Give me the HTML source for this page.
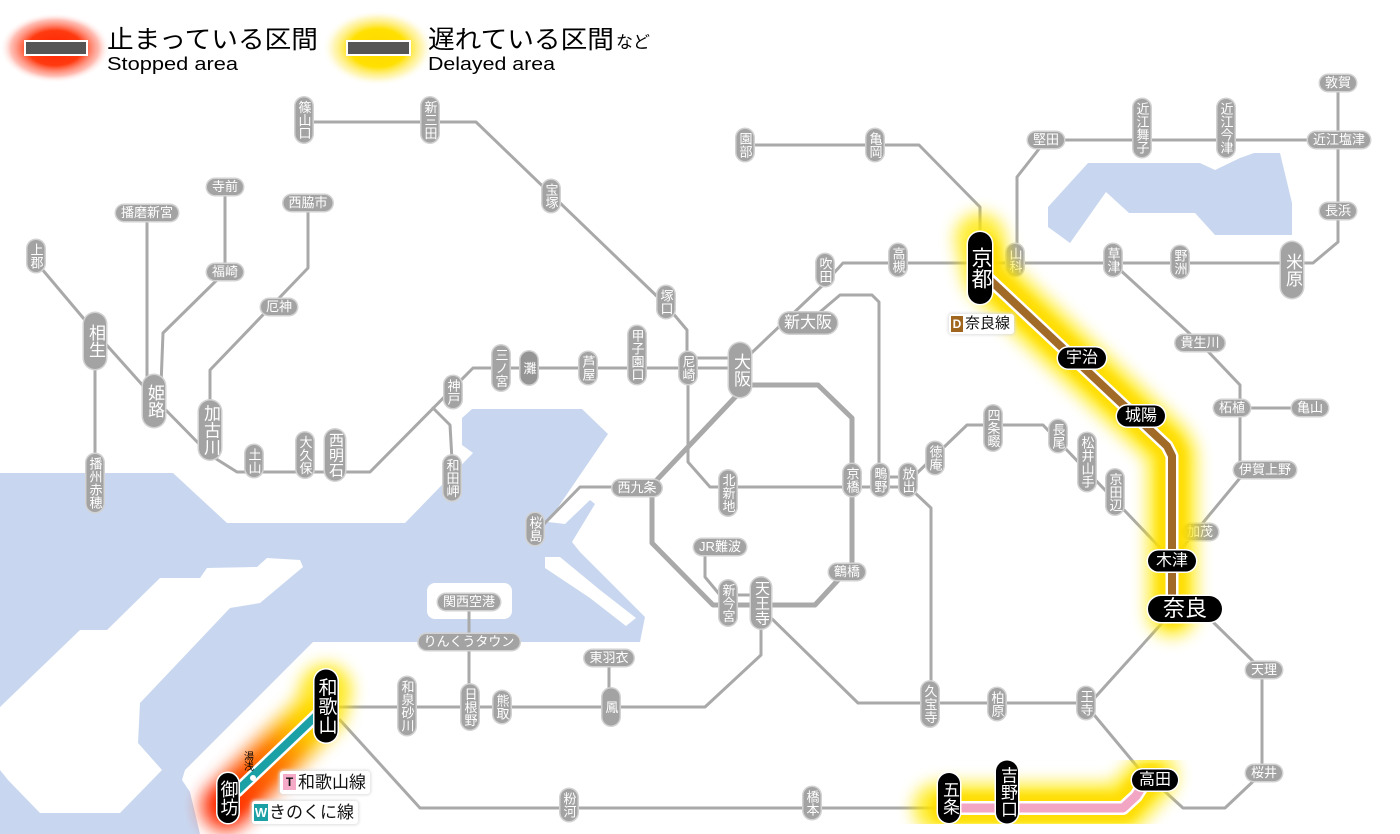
<!DOCTYPE html>
<html><head><meta charset="utf-8">
<style>
html,body{margin:0;padding:0;background:#fff}
#c{position:relative;width:1400px;height:834px;overflow:hidden;background:#fff}
svg{position:absolute;left:0;top:0}
.l{position:absolute;transform:translate(-50%,-50%);color:#fff;font-family:"Liberation Sans","Noto Sans CJK JP",sans-serif;white-space:nowrap;text-align:center}
.g{background:#a3a3a3;box-shadow:0 0 0 1.5px #d2d2d2;font-size:13px;border-radius:9px}
.v{writing-mode:vertical-rl;line-height:17px;padding:3px 0}
.h{line-height:16px;padding:0 5px}
.B{font-size:17px;line-height:22px;border-radius:11px}
.M{font-size:15px;line-height:20px;border-radius:10px}
.k{background:#000;box-shadow:0 0 0 1.5px #fff;border-radius:12px}
.box{position:absolute;background:#fff;box-shadow:0 0 3px 1px #ddd;border-radius:3px;font-family:"Liberation Sans","Noto Sans CJK JP",sans-serif;color:#111;white-space:nowrap}
.ic{display:inline-block;text-align:center;font-weight:bold;vertical-align:top}
</style></head><body>
<div id="c">
<svg width="1400" height="834" viewBox="0 0 1400 834">
 <g fill="#c8d7ef">
  <polygon points="0,473 173,473 227,523 405,523 473,453 462,445 462,418 472,409 582,409 608,434 548,522 565,524 590,500 595,504 572,542 580,552 645,617 640,642 313,642 185,770 182,780 190,792 200,834 0,834"/>
  <polygon points="1048,207 1088,163 1200,163 1215,170 1240,158 1254,153 1280,153 1292,203 1292,235 1215,235 1195,213 1129,213 1106,192 1070,243 1048,227"/>
 </g>
 <g fill="#fff">
  <polygon points="0,707 80,630 107,630 160,578 200,578 207,568 257,567 267,558 300,560 303,567 260,603 230,608 140,703 138,743 162,770 120,813 40,813 8,780 0,770"/>
  <rect x="427" y="583" width="85" height="36" rx="8"/>
  <polygon points="545,557 560,557 600,590 636,618 626,626 590,598 545,568"/>
 </g>
 <g fill="none" stroke="#a9a9a9" stroke-width="3" stroke-linejoin="round" stroke-linecap="round">
  <polyline points="304,122 476,122 666,305 687,330 687,370"/>
  <polyline points="36,262 95,332 154,398 210,455 237,472 370,472 473,368 740,368"/>
  <polyline points="433,408 450,425 452,460"/>
  <polyline points="688,358 740,358"/>
  <polyline points="225,187 225,272 163,333 161,385"/>
  <polyline points="147,213 147,385"/>
  <polyline points="308,203 308,268 210,370 210,430"/>
  <polyline points="95,340 95,483"/>
  <polyline points="742,362 823,285 843,263 1313,263 1338,242 1338,83"/>
  <polyline points="820,312 840,295 872,295 879,302 879,480"/>
  <polyline points="688,370 688,462 710,487 908,487"/>
  <polyline points="879,477 908,477"/>
  <polyline points="915,475 967,425 1043,425 1167,555"/>
  <polyline points="912,490 931,508 931,703"/>
  <polyline points="766,613 858,703 1090,703 1172,612"/>
  <polyline points="1090,710 1140,770"/>
  <polyline points="949,808 420,808 340,720"/>
  <polyline points="1214,623 1262,670 1262,773 1225,808 1183,808 1160,787"/>
  <polyline points="337,707 705,707 761,655 761,627"/>
  <polyline points="469,602 469,707"/>
  <polyline points="609,658 609,707"/>
  <polyline points="705,547 705,577 720,595 761,595"/>
  <polyline points="1118,268 1200,343 1240,385 1240,478 1172,560"/>
  <polyline points="1240,408 1310,408"/>
  <polyline points="745,145 919,145 980,207 980,240"/>
  <polyline points="1017,263 1017,177 1046,140 1338,140"/>
  <polyline points="535,528 543,525 580,487 637,487"/>
  <polyline stroke-width="5" points="740,385 818,385 852,418 852,565 815,605 713,605 652,543 652,485 740,392"/>
 </g>
</svg>

<!-- gray labels -->
<div class="l g v" style="left:304px;top:120px">篠山口</div>
<div class="l g v" style="left:430px;top:120px">新三田</div>
<div class="l g v" style="left:551px;top:196px">宝塚</div>
<div class="l g v" style="left:666px;top:302px">塚口</div>
<div class="l g v" style="left:688px;top:368px">尼崎</div>
<div class="l g v" style="left:637px;top:355px">甲子園口</div>
<div class="l g v" style="left:588px;top:368px">芦屋</div>
<div class="l g v" style="left:529px;top:368px;padding:10px 0;background:#959595">灘</div>
<div class="l g v" style="left:501px;top:368px">三ノ宮</div>
<div class="l g v" style="left:453px;top:392px">神戸</div>
<div class="l g v" style="left:452px;top:478px">和田岬</div>
<div class="l g v" style="left:305px;top:455px">大久保</div>
<div class="l g v" style="left:254px;top:461px">土山</div>
<div class="l g v" style="left:95px;top:483px">播州赤穂</div>
<div class="l g v" style="left:36px;top:256px">上郡</div>
<div class="l g v" style="left:407px;top:706px">和泉砂川</div>
<div class="l g v" style="left:470px;top:707px">日根野</div>
<div class="l g v" style="left:502px;top:707px">熊取</div>
<div class="l g v" style="left:611px;top:707px;padding:12px 0">鳳</div>
<div class="l g v" style="left:569px;top:805px">粉河</div>
<div class="l g v" style="left:812px;top:803px">橋本</div>
<div class="l g v" style="left:930px;top:704px">久宝寺</div>
<div class="l g v" style="left:997px;top:704px">柏原</div>
<div class="l g v" style="left:1086px;top:703px">王寺</div>
<div class="l g v" style="left:728px;top:603px">新今宮</div>
<div class="l g v" style="left:535px;top:529px">桜島</div>
<div class="l g v" style="left:728px;top:493px">北新地</div>
<div class="l g v" style="left:852px;top:480px">京橋</div>
<div class="l g v" style="left:880px;top:480px">鴫野</div>
<div class="l g v" style="left:908px;top:480px">放出</div>
<div class="l g v" style="left:935px;top:458px">徳庵</div>
<div class="l g v" style="left:993px;top:428px">四条畷</div>
<div class="l g v" style="left:1058px;top:436px">長尾</div>
<div class="l g v" style="left:1087px;top:462px">松井山手</div>
<div class="l g v" style="left:1115px;top:492px">京田辺</div>
<div class="l g v" style="left:825px;top:270px">吹田</div>
<div class="l g v" style="left:898px;top:260px">高槻</div>
<div class="l g v" style="left:745px;top:145px">園部</div>
<div class="l g v" style="left:875px;top:145px">亀岡</div>
<div class="l g v" style="left:1015px;top:260px">山科</div>
<div class="l g v" style="left:1113px;top:260px">草津</div>
<div class="l g v" style="left:1180px;top:262px">野洲</div>
<div class="l g v" style="left:1142px;top:128px">近江舞子</div>
<div class="l g v" style="left:1226px;top:128px">近江今津</div>
<div class="l g v M" style="left:335px;top:455px;padding:3px 0">西明石</div>
<div class="l g v M" style="left:761px;top:603px;padding:3px 0">天王寺</div>
<div class="l g v B" style="left:154px;top:401px;padding:9px 0">姫路</div>
<div class="l g v B" style="left:95px;top:341px;padding:11px 0">相生</div>
<div class="l g v B" style="left:210px;top:430px;padding:4px 0">加古川</div>
<div class="l g v B" style="left:740px;top:370px;padding:10px 0">大阪</div>
<div class="l g v B" style="left:1292px;top:270px;padding:11px 0">米原</div>

<div class="l g h" style="left:225px;top:187px">寺前</div>
<div class="l g h" style="left:147px;top:213px">播磨新宮</div>
<div class="l g h" style="left:308px;top:203px">西脇市</div>
<div class="l g h" style="left:225px;top:272px">福崎</div>
<div class="l g h" style="left:279px;top:307px">厄神</div>
<div class="l g h" style="left:609px;top:658px">東羽衣</div>
<div class="l g h" style="left:469px;top:602px">関西空港</div>
<div class="l g h" style="left:469px;top:642px">りんくうタウン</div>
<div class="l g h" style="left:1264px;top:670px">天理</div>
<div class="l g h" style="left:1264px;top:773px">桜井</div>
<div class="l g h" style="left:720px;top:547px">JR難波</div>
<div class="l g h" style="left:847px;top:572px">鶴橋</div>
<div class="l g h" style="left:637px;top:488px">西九条</div>
<div class="l g h" style="left:1200px;top:532px">加茂</div>
<div class="l g h" style="left:1265px;top:470px">伊賀上野</div>
<div class="l g h" style="left:1232px;top:408px">柘植</div>
<div class="l g h" style="left:1310px;top:408px">亀山</div>
<div class="l g h" style="left:1200px;top:343px">貴生川</div>
<div class="l g h" style="left:1338px;top:211px">長浜</div>
<div class="l g h" style="left:1339px;top:140px">近江塩津</div>
<div class="l g h" style="left:1338px;top:83px">敦賀</div>
<div class="l g h" style="left:1046px;top:140px">堅田</div>
<div class="l g h" style="left:808px;top:323px;font-size:16px;line-height:21px;border-radius:11px">新大阪</div>

<!-- glows -->
<svg width="1400" height="834" viewBox="0 0 1400 834">
 <defs>
  <filter id="bl" x="-50%" y="-50%" width="200%" height="200%"><feGaussianBlur stdDeviation="8"/></filter>
  <filter id="bl2" x="-50%" y="-50%" width="200%" height="200%"><feGaussianBlur stdDeviation="4"/></filter>
  <linearGradient id="kg" gradientUnits="userSpaceOnUse" x1="228" y1="805" x2="330" y2="700">
   <stop offset="0" stop-color="#ff2a00"/><stop offset="0.45" stop-color="#ff7a00"/><stop offset="0.75" stop-color="#ffd000"/><stop offset="1" stop-color="#ffe600"/>
  </linearGradient>
  <radialGradient id="rg"><stop offset="0" stop-color="#ff2400"/><stop offset="0.5" stop-color="#ff3a10"/><stop offset="0.8" stop-color="#ff9080" stop-opacity="0.6"/><stop offset="1" stop-color="#fff" stop-opacity="0"/></radialGradient>
  <radialGradient id="yg"><stop offset="0" stop-color="#ffd800"/><stop offset="0.5" stop-color="#ffe000"/><stop offset="0.8" stop-color="#fff090" stop-opacity="0.6"/><stop offset="1" stop-color="#fff" stop-opacity="0"/></radialGradient>
 </defs>
 <g fill="none" stroke-linecap="round" stroke-linejoin="round">
  <path d="M980,238 L988,276 L1167,445 L1172,455 L1172,612" stroke="#ffe800" stroke-width="50" opacity="0.8" filter="url(#bl)"/>
  <path d="M984,250 L988,276 L1167,445 L1172,455 L1172,612" stroke="#ffdc00" stroke-width="30" opacity="0.9" filter="url(#bl2)"/>
  <path d="M938,808 L1123,808 L1152,776" stroke="#ffe800" stroke-width="50" opacity="0.8" filter="url(#bl)"/>
  <path d="M945,808 L1123,808 L1150,778" stroke="#ffdc00" stroke-width="30" opacity="0.9" filter="url(#bl2)"/>
  <path d="M226,806 L320,712 L326,690" stroke="url(#kg)" stroke-width="52" opacity="0.85" filter="url(#bl)"/>
  <path d="M228,804 L320,712" stroke="url(#kg)" stroke-width="30" opacity="0.95" filter="url(#bl2)"/>
 </g>
 <ellipse cx="55" cy="48" rx="55" ry="35" fill="url(#rg)"/>
 <ellipse cx="378" cy="48" rx="56" ry="38" fill="url(#yg)"/>
</svg>

<!-- colored lines & legend -->
<svg width="1400" height="834" viewBox="0 0 1400 834">
 <g fill="none" stroke-linejoin="round">
  <path d="M988,278 L1167,446 L1172,456 L1172,606" stroke="#fff" stroke-width="13"/>
  <path d="M988,278 L1167,446 L1172,456 L1172,606" stroke="#a26a27" stroke-width="8"/>
  <path d="M955,808 L1123,808 L1136,796 L1145,782" stroke="#fff" stroke-width="14"/>
  <path d="M955,808 L1123,808 L1136,796 L1145,782" stroke="#f3a5c4" stroke-width="9"/>
  <path d="M236,792 L318,714" stroke="#fff" stroke-width="13"/>
  <path d="M236,792 L318,714" stroke="#1ba0a5" stroke-width="8"/>
 </g>
 <circle cx="253" cy="778" r="3" fill="#fff"/>
 <rect x="25" y="41" width="62" height="14" fill="#555" stroke="#fff" stroke-width="2"/>
 <rect x="347" y="41" width="63" height="14" fill="#555" stroke="#fff" stroke-width="2"/>
 <g font-family="'Liberation Sans','Noto Sans CJK JP',sans-serif" fill="#000">
  <text x="107" y="48" font-size="25" textLength="211" lengthAdjust="spacingAndGlyphs">止まっている区間</text>
  <text x="107" y="70" font-size="18" textLength="131" lengthAdjust="spacingAndGlyphs">Stopped area</text>
  <text x="428" y="48" font-size="25" textLength="186" lengthAdjust="spacingAndGlyphs">遅れている区間</text>
  <text x="616" y="48" font-size="17" textLength="34" lengthAdjust="spacingAndGlyphs">など</text>
  <text x="428" y="70" font-size="18" textLength="127" lengthAdjust="spacingAndGlyphs">Delayed area</text>
 </g>
</svg>

<!-- black labels -->
<div class="l k v" style="left:980px;top:268px;font-size:21px;line-height:24px;padding:15px 0">京都</div>
<div class="l k h" style="left:1082px;top:358px;font-size:16px;line-height:21px;padding:0 8px">宇治</div>
<div class="l k h" style="left:1141px;top:416px;font-size:16px;line-height:21px;padding:0 8px">城陽</div>
<div class="l k h" style="left:1172px;top:561px;font-size:16px;line-height:21px;padding:0 8px">木津</div>
<div class="l k h" style="left:1185px;top:609px;font-size:22px;line-height:26px;padding:0 15px;border-radius:13px">奈良</div>
<div class="l k h" style="left:1155px;top:780px;font-size:16px;line-height:21px;padding:0 7px">高田</div>
<div class="l k v" style="left:949px;top:798px;font-size:17px;line-height:22px;padding:8px 0">五条</div>
<div class="l k v" style="left:1007px;top:792px;font-size:17px;line-height:22px;padding:6px 0">吉野口</div>
<div class="l k v" style="left:326px;top:706px;font-size:19px;line-height:23px;padding:8px 0">和歌山</div>
<div class="l k v" style="left:228px;top:798px;font-size:18px;line-height:21px;padding:7px 0">御坊</div>
<div class="l" style="left:247px;top:761px;color:#000;font-size:10px;line-height:11px;writing-mode:vertical-rl">湯浅</div>

<div class="box" style="left:949px;top:314px;padding:1px 4px 1px 2px;font-size:15px;line-height:18px"><span class="ic" style="background:#a0661e;color:#fff;width:12px;height:16px;font-size:12px;line-height:16px;margin:1px 2px 0 0">D</span>奈良線</div>
<div class="box" style="left:280px;top:771px;padding:1px 4px 1px 3px;font-size:17px;line-height:21px"><span class="ic" style="background:#f5aac8;color:#111;width:13px;height:16px;font-size:12px;line-height:16px;margin:2px 2px 0 0">T</span>和歌山線</div>
<div class="box" style="left:252px;top:801px;padding:1px 4px 1px 2px;font-size:17px;line-height:21px"><span class="ic" style="background:#1ba0a5;color:#fff;width:14px;height:17px;font-size:13px;line-height:17px;margin:2px 1px 0 0">W</span>きのくに線</div>
</div>
</body></html>
